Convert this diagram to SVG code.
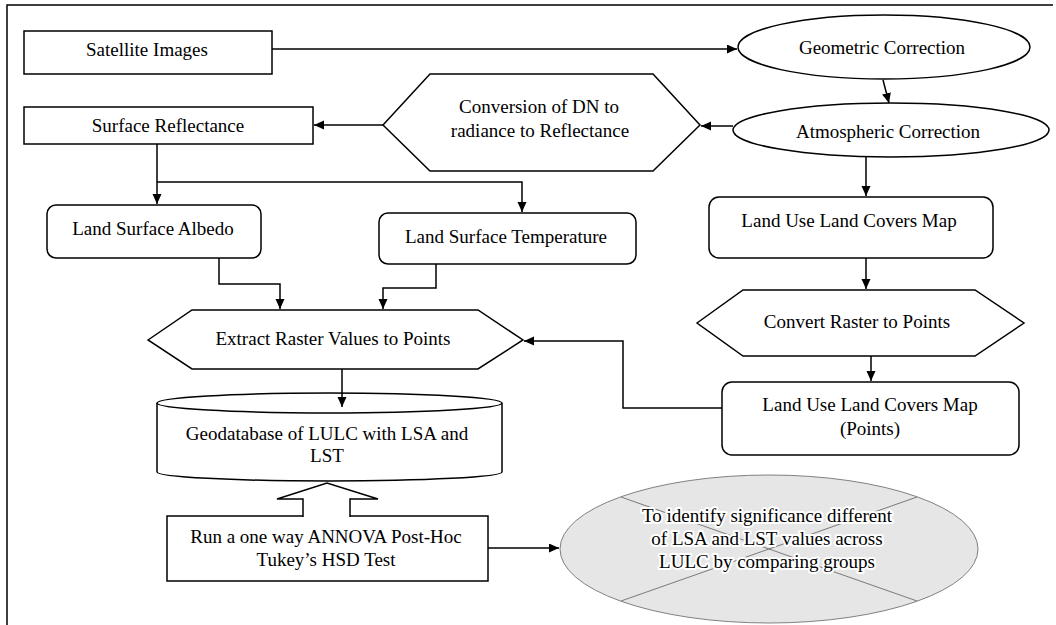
<svg xmlns="http://www.w3.org/2000/svg" width="1056" height="625" viewBox="0 0 1056 625">
<defs>
<marker id="ah" markerUnits="userSpaceOnUse" markerWidth="11" markerHeight="10" refX="10" refY="4.5" orient="auto">
<path d="M0,0 L10,4.5 L0,9 z" fill="#000"/>
</marker>
<style>
.s{fill:#fff;stroke:#000;stroke-width:1.5}
.t{font-family:"Liberation Serif","Times New Roman",serif;font-size:19px;fill:#000;text-anchor:middle}
.h{stroke:#fff;stroke-width:4;stroke-linejoin:round;paint-order:stroke}
.c{fill:none;stroke:#000;stroke-width:1.5}
</style>
</defs>
<rect width="1056" height="625" fill="#fff"/>
<path d="M7,625 V5 H1053" fill="none" stroke="#000" stroke-width="1.5"/>

<g id="satellite">
<rect class="s" x="24" y="31" width="248" height="43"/>
<text class="t" x="147" y="56">Satellite Images</text>
</g>
<g id="geometric">
<ellipse class="s" cx="884" cy="47" rx="146" ry="32"/>
<text class="t" x="882" y="54">Geometric Correction</text>
</g>
<g id="atmospheric">
<ellipse class="s" cx="891" cy="130" rx="158" ry="27"/>
<text class="t" x="888" y="138">Atmospheric Correction</text>
</g>
<g id="conversion">
<polygon class="s" points="383,125 430,74 653,74 700,125 653,171 430,171"/>
<text class="t" x="539" y="113">Conversion of DN to</text>
<text class="t" x="540" y="137">radiance  to Reflectance</text>
</g>
<g id="surface-reflectance">
<rect class="s" x="24" y="107" width="289" height="37"/>
<text class="t" x="168" y="132">Surface Reflectance</text>
</g>
<g id="albedo">
<rect class="s" x="47" y="205" width="214" height="53" rx="9"/>
<text class="t" x="153" y="235">Land Surface Albedo</text>
</g>
<g id="lst">
<rect class="s" x="379" y="213" width="257" height="51" rx="9"/>
<text class="t" x="506" y="243">Land Surface Temperature</text>
</g>
<g id="lulc-map">
<rect class="s" x="709" y="197" width="284" height="61" rx="10"/>
<text class="t" x="849" y="227">Land Use Land Covers Map</text>
</g>
<g id="convert">
<polygon class="s" points="697,323 743,290 975,290 1024,323 975,356 743,356"/>
<text class="t" x="857" y="328">Convert Raster to Points</text>
</g>
<g id="lulc-points">
<rect class="s" x="722" y="382" width="297" height="73" rx="10"/>
<text class="t" x="870" y="411">Land Use Land Covers Map</text>
<text class="t" x="870" y="435">(Points)</text>
</g>
<g id="extract">
<polygon class="s" points="148,340 192,310 478,310 523,340 478,369 192,369"/>
<text class="t" x="333" y="345">Extract Raster Values to Points</text>
</g>
<g id="geodatabase">
<path class="s" d="M157,403 V472 A172.5,9 0 0 0 502,472 V403"/>
<ellipse class="s" cx="329.5" cy="403" rx="172.5" ry="10"/>
<text class="t" x="327" y="440">Geodatabase of LULC with LSA and</text>
<text class="t" x="327" y="462">LST</text>
</g>
<g id="anova">
<rect class="s" x="167" y="516" width="321" height="65"/>
<text class="t" x="326" y="543">Run a one way ANNOVA Post-Hoc</text>
<text class="t" x="326" y="566">Tukey’s HSD Test</text>
</g>
<g id="significance">
<ellipse cx="769" cy="549" rx="209" ry="74" fill="#e6e6e6" stroke="#808080" stroke-width="1"/>
<path d="M621,497 L917,601 M621,601 L917,497" stroke="#7a7a7a" stroke-width="1" fill="none"/>
<text class="t h" x="767" y="522">To identify  significance  different</text>
<text class="t h" x="767" y="545">of LSA and LST values  across</text>
<text class="t h" x="767" y="568">LULC by comparing  groups</text>
</g>

<g id="connectors">
<path class="c" d="M272,49 H737" marker-end="url(#ah)"/>
<path class="c" d="M883,80 L889,103" marker-end="url(#ah)"/>
<path class="c" d="M733,126 H701" marker-end="url(#ah)"/>
<path class="c" d="M383,125 H314" marker-end="url(#ah)"/>
<path class="c" d="M157,144 V204" marker-end="url(#ah)"/>
<path class="c" d="M157,182 H522 V212" marker-end="url(#ah)"/>
<path class="c" d="M219,258 V284 H280 V309" marker-end="url(#ah)"/>
<path class="c" d="M436,264 V288 H383 V309" marker-end="url(#ah)"/>
<path class="c" d="M866,157 V196" marker-end="url(#ah)"/>
<path class="c" d="M866,258 V289" marker-end="url(#ah)"/>
<path class="c" d="M871,356 V381" marker-end="url(#ah)"/>
<path class="c" d="M722,408 H623 V341 H524" marker-end="url(#ah)"/>
<path class="c" d="M342,369 V407" marker-end="url(#ah)"/>
<path class="c" d="M488,548 H559" marker-end="url(#ah)"/>
<path d="M303,517 V499 H277 L327,483 L378,499 H350 V517" fill="#fff" stroke="#000" stroke-width="1.5"/>
</g>
</svg>
